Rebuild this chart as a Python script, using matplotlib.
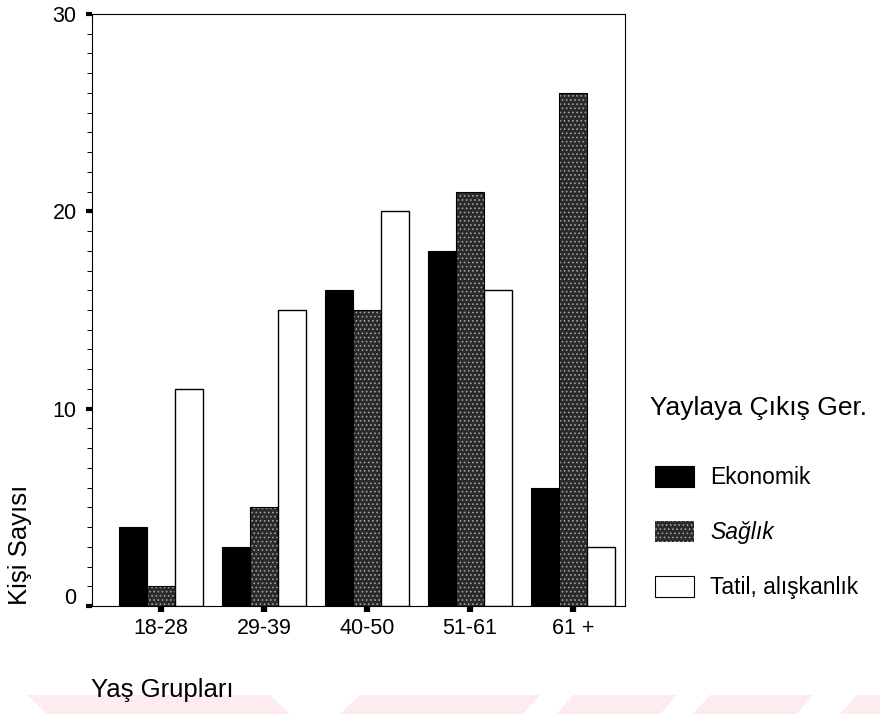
import matplotlib
matplotlib.use("Agg")
import matplotlib.pyplot as plt
import matplotlib.transforms as mtransforms
import numpy as np
from matplotlib.patches import Patch, Polygon

plt.rcParams["font.family"] = ["Liberation Sans", "DejaVu Sans"]
plt.rcParams["hatch.linewidth"] = 0.7

groups = ["18-28", "29-39", "40-50", "51-61", "61 +"]
ekonomik = [4, 3, 16, 18, 6]
saglik = [1, 5, 15, 21, 26]
tatil = [11, 15, 20, 16, 3]
series_names = ["Ekonomik", "Sağlık", "Tatil, alışkanlık"]

W, H = 880, 714
fig = plt.figure(figsize=(W / 100, H / 100), dpi=100)
fig.patch.set_facecolor("white")

# faint scan watermark strip at the bottom
wm_top, wm_bot = 1 - 695 / H, 0.0
for (t0, t1, b0, b1) in [(27, 270, 47, 290), (360, 540, 340, 523),
                         (573, 677, 557, 660), (710, 813, 693, 797),
                         (857, 880, 840, 880)]:
    fig.patches.append(Polygon([(t0 / W, wm_top), (t1 / W, wm_top),
                                (b1 / W, wm_bot), (b0 / W, wm_bot)],
                               closed=True, transform=fig.transFigure,
                               facecolor="#fdebee", edgecolor="none", zorder=0))

ax = fig.add_axes([92 / W, 108 / H, 533 / W, 592 / H])

x = np.arange(len(groups))
bw = 0.272
dark = "#2a2a2a"
speck = "#a0a0a0"

ax.bar(x - bw, ekonomik, bw, color="black", edgecolor="black", linewidth=0.8)
ax.bar(x, saglik, bw, color=dark, edgecolor=speck, hatch="....", linewidth=0)
ax.bar(x, saglik, bw, fill=False, edgecolor="black", linewidth=0.8)
ax.bar(x + bw, tatil, bw, color="white", edgecolor="black", linewidth=1.0)

ax.set_xlim(-0.67, 4.505)
ax.set_ylim(0, 30)

ax.set_xticks(x)
ax.set_xticklabels(groups, fontsize=15.5)
ax.set_yticks([0, 10, 20, 30])
ax.set_yticklabels(["0", "10", "20", "30"], fontsize=15.5)
ax.set_yticks(np.arange(0, 31, 1), minor=True)

ax.tick_params(axis="x", which="major", direction="out", length=4,
               width=4.5, pad=5)
ax.tick_params(axis="y", which="major", direction="out", length=4,
               width=3, pad=7)
ax.tick_params(axis="y", which="minor", direction="out", length=3.5,
               width=0.7)
ax.tick_params(axis="x", which="minor", length=0)

# the "0" label sits a little higher in the original
zero_lbl = ax.get_yticklabels()[0]
zero_lbl.set_transform(zero_lbl.get_transform() +
                       mtransforms.ScaledTranslation(0, 10 / 100, fig.dpi_scale_trans))

for sp in ax.spines.values():
    sp.set_linewidth(0.8)
    sp.set_color("black")

fig.text(20 / W, 1 - 605 / H, "Kişi Sayısı", rotation=90, ha="center",
         va="bottom", fontsize=18.5)
fig.text(91 / W, 1 - 690 / H, "Yaş Grupları", ha="left", va="center",
         fontsize=18.5)

fig.text(650 / W, 1 - 408 / H, "Yaylaya Çıkış Ger.", ha="left",
         va="center", fontsize=19)

handles = [
    Patch(facecolor="black", edgecolor="black", linewidth=0.8),
    Patch(facecolor=dark, edgecolor=speck, hatch="....", linewidth=0),
    Patch(facecolor="white", edgecolor="black", linewidth=0.8),
]
leg = fig.legend(handles, series_names, loc="upper left",
                 bbox_to_anchor=(655 / W, 1 - 466 / H), frameon=False,
                 fontsize=16.5, handlelength=1.7, handleheight=1.0,
                 handletextpad=0.7, labelspacing=1.4, borderpad=0,
                 borderaxespad=0)
leg.get_texts()[1].set_style("italic")

fig.savefig("out.png", dpi=100, facecolor="white")
